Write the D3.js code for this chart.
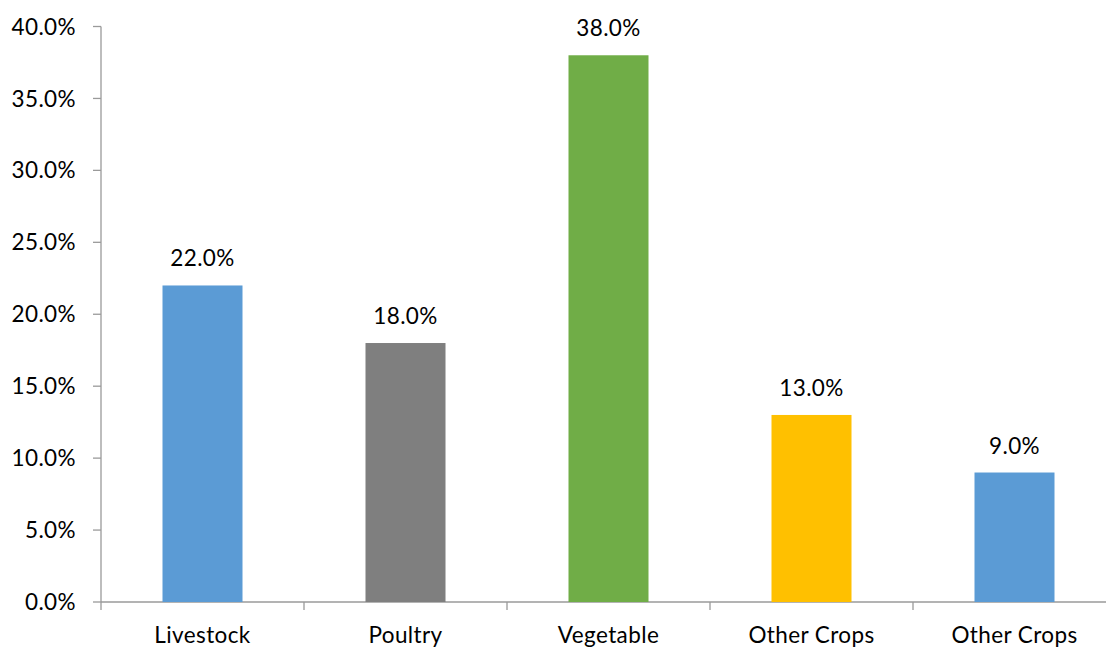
<!DOCTYPE html>
<html><head><meta charset="utf-8">
<script src="https://cdn.jsdelivr.net/npm/d3@7"></script>
<style>html,body{margin:0;padding:0;background:#fff;overflow:hidden}</style>
</head><body>
<svg id="c" width="1106" height="648"></svg>
<script>
const categories = ["Livestock","Poultry","Vegetable","Other Crops","Other Crops"];
const values = [22.0, 18.0, 38.0, 13.0, 9.0];
const colors = ["#5B9BD5","#7F7F7F","#70AD47","#FFC000","#5B9BD5"];
const yTicks = [0,5,10,15,20,25,30,35,40];

const svg = d3.select("#c");
const font = "Lato, 'Open Sans', sans-serif";
const fs = 22.5;
const ls = "0.4px";
const axisColor = "#9a9a9a";
const x = d3.scaleBand().domain(d3.range(categories.length)).range([101, 1116]).paddingInner(0).paddingOuter(0);
const y = d3.scaleLinear().domain([0, 40]).range([602, 26.5]);
const barW = 80;

// y axis
svg.append("line").attr("x1",101).attr("x2",101).attr("y1",y(40)).attr("y2",y(0)).attr("stroke",axisColor).attr("stroke-width",1.3);
yTicks.forEach(t=>{
  svg.append("line").attr("x1",93).attr("x2",101).attr("y1",y(t)).attr("y2",y(t)).attr("stroke",axisColor).attr("stroke-width",1.3);
  svg.append("text").attr("x",76).attr("y",y(t)).attr("dy","0.36em").attr("text-anchor","end")
    .attr("font-family",font).attr("font-size",fs).attr("letter-spacing",ls).attr("fill","#000").text(t.toFixed(1)+"%");
});
// x axis
svg.append("line").attr("x1",101).attr("x2",1116).attr("y1",y(0)).attr("y2",y(0)).attr("stroke",axisColor).attr("stroke-width",1.3);
d3.range(categories.length+1).forEach(i=>{
  const xx = 101 + i*x.bandwidth();
  svg.append("line").attr("x1",xx).attr("x2",xx).attr("y1",y(0)).attr("y2",y(0)+8).attr("stroke",axisColor).attr("stroke-width",1.3);
});
// bars
svg.selectAll("rect.bar").data(values).join("rect")
  .attr("x",(d,i)=>x(i)+x.bandwidth()/2-barW/2).attr("width",barW)
  .attr("y",d=>y(d)).attr("height",d=>y(0)-y(d)).attr("fill",(d,i)=>colors[i]);
// data labels
svg.selectAll("text.lbl").data(values).join("text")
  .attr("x",(d,i)=>x(i)+x.bandwidth()/2).attr("y",d=>y(d)-19)
  .attr("text-anchor","middle").attr("font-family",font).attr("font-size",fs).attr("letter-spacing",ls).attr("fill","#000")
  .text(d=>d.toFixed(1)+"%");
// category labels
svg.selectAll("text.cat").data(categories).join("text")
  .attr("x",(d,i)=>x(i)+x.bandwidth()/2).attr("y",643)
  .attr("text-anchor","middle").attr("font-family",font).attr("font-size",fs).attr("letter-spacing",ls).attr("fill","#000")
  .text(d=>d);
</script>
</body></html>
